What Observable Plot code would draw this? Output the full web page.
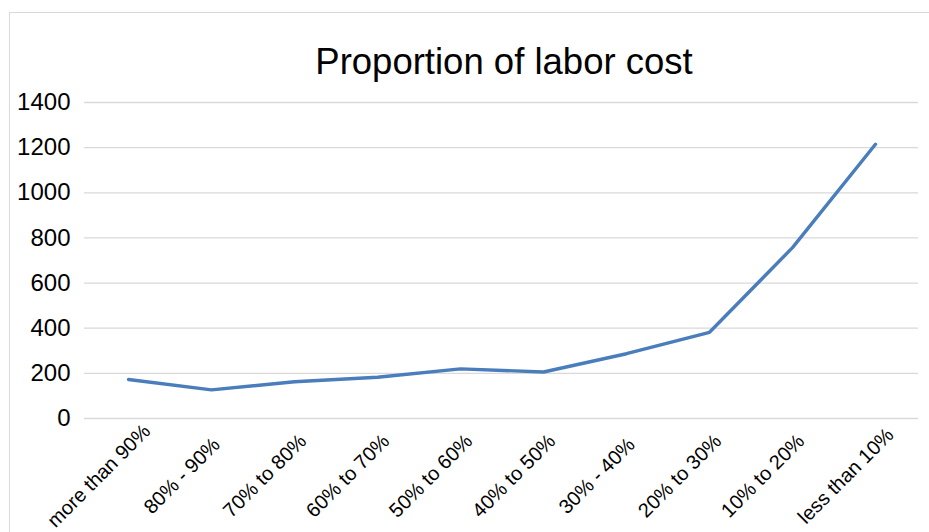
<!DOCTYPE html>
<html>
<head>
<meta charset="utf-8">
<script src="https://cdn.jsdelivr.net/npm/d3@7"></script>
<script src="https://cdn.jsdelivr.net/npm/@observablehq/plot@0.6"></script>
<style>
  html, body { margin: 0; padding: 0; background: #fff; }
  #chart { position: relative; width: 929px; height: 532px; overflow: hidden; }
  #chart .border {
    position: absolute; left: 9px; top: 12px; width: 940px; height: 540px;
    border: 1px solid #d9d9d9; box-sizing: border-box;
  }
  #chart svg { position: absolute; left: 0; top: 0; }
</style>
</head>
<body>
<div id="chart"><div class="border"></div></div>
<script>
// Labor cost share bands, from highest to lowest
const categories = [
  "more than 90%", "80% - 90%", "70% to 80%", "60% to 70%", "50% to 60%",
  "40% to 50%", "30% - 40%", "20% to 30%", "10% to 20%", "less than 10%"
];
// Number of responses in each band
const counts = [173, 127, 163, 183, 220, 206, 287, 382, 757, 1215];
// Value-axis ticks
const yTicks = [0, 200, 400, 600, 800, 1000, 1200, 1400];
const title = "Proportion of labor cost";

const data = categories.map((category, i) => ({category, count: counts[i]}));

const chart = Plot.plot({
  width: 929,
  height: 532,
  marginLeft: 84,
  marginRight: 11,
  marginTop: 102,
  marginBottom: 114,
  style: {fontFamily: "'Liberation Sans', Arial, sans-serif", background: "transparent", color: "#000"},
  x: {type: "point", domain: categories, padding: 0.5, axis: null},
  y: {domain: [0, 1400], axis: null},
  marks: [
    Plot.gridY(yTicks, {stroke: "#d9d9d9", strokeOpacity: 1, strokeWidth: 1.3}),
    Plot.axisY(yTicks, {
      tickSize: 0, tickPadding: 14, fontSize: 24, fill: "#000", label: null,
      tickFormat: d => String(d)
    }),
    Plot.text(categories, {
      x: d => d, frameAnchor: "bottom", lineAnchor: "bottom", rotate: -45, textAnchor: "middle",
      dx: -25, dy: 62, fontSize: 20, fill: "#000"
    }),
    Plot.line(data, {x: "category", y: "count", stroke: "#4a7dbb", strokeWidth: 3.4}),
    Plot.text([title], {
      frameAnchor: "top", lineAnchor: "middle", dx: 2.5, dy: -40.5, fontSize: 36.5, fill: "#000"
    })
  ]
});

document.getElementById("chart").appendChild(chart);
</script>
</body>
</html>
